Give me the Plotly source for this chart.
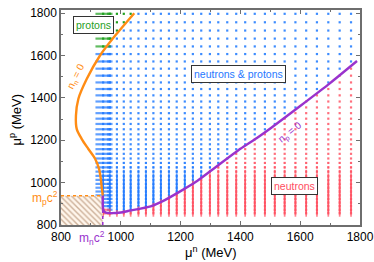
import numpy as np
import plotly.graph_objects as go

# ---------------- data ----------------
# grid columns (neutron chemical potential mu_n, MeV)
mu_n_cols = [941, 963, 987, 1010, 1033, 1059, 1084, 1109, 1134, 1161, 1187, 1214,
             1241, 1269, 1298, 1326, 1356, 1386, 1416, 1448, 1482, 1515, 1548,
             1584, 1620, 1656, 1694, 1732, 1770]
# grid rows (proton chemical potential mu_p, MeV)
mu_p_rows = [855, 872, 889, 906, 923, 940, 958, 976, 994, 1013, 1032, 1052, 1072,
             1093, 1114, 1136, 1158, 1181, 1204, 1228, 1252, 1277, 1302, 1328,
             1355, 1383, 1412, 1442, 1473, 1505, 1538, 1572, 1607, 1643, 1680,
             1718, 1757, 1797]

# n_n = 0 boundary (orange)
nn0_mu_n = [939.6, 936, 933, 927, 914, 891, 869, 852.5, 850, 858, 886, 930, 980.6, 1045]
nn0_mu_p = [938.3, 980, 1019, 1066, 1113, 1160, 1207, 1254, 1317, 1395, 1489, 1599, 1693, 1800]

# n_p = 0 boundary (purple)
np0_mu_n = [939.6, 940.2, 943, 950, 965, 1000, 1024, 1100, 1137, 1200, 1250, 1300,
            1400, 1454, 1500, 1600, 1700, 1790]
np0_mu_p = [938.3, 880, 866, 858, 856, 859, 866, 888, 910, 960, 1003, 1055,
            1160, 1210, 1256, 1362, 1470, 1574]

m_p = 938.3
m_n = 939.6

x_ticks = [800, 1000, 1200, 1400, 1600, 1800]
y_ticks = [800, 1000, 1200, 1400, 1600, 1800]

# ---------------- colours ----------------
BLUE = "#1f78ff"
BLUE_DOT = "#3d8cff"
RED = "#ff4d5e"
RED_DOT = "#ff6f7d"
GREEN = "#1fa01f"
ORANGE = "#ff8c14"
PURPLE = "#9a32cd"
FONT = "Liberation Sans"

# ---------------- classify grid points ----------------
MN, MP = np.meshgrid(np.array(mu_n_cols, float), np.array(mu_p_rows, float))
orange_at = np.interp(MP, nn0_mu_p, nn0_mu_n)
purple_at = np.interp(MN, np0_mu_n, np0_mu_p)
red = MP < purple_at
green = (~red) & (MP > m_p) & (MN < orange_at)
blue = (~red) & (~green)

# marker styling (lengths in px)
vlen = np.interp(MP, [850, 1000, 1110], [4.8, 4.8, 0.0])
hlen = np.where(MN < 950, 11.0, np.where(MN < 970, 4.0, 0.0))

fig = go.Figure()

for mask, col, dcol in [(blue, BLUE, BLUE_DOT), (red, RED, RED_DOT), (green, GREEN, GREEN)]:
    fig.add_trace(go.Scatter(x=MN[mask], y=MP[mask], mode="markers",
                             marker=dict(symbol="square", size=2.2, color=dcol,
                                         line=dict(width=0)),
                             hoverinfo="skip", showlegend=False))
    mv = mask & (vlen > 0.6)
    fig.add_trace(go.Scatter(x=MN[mv], y=MP[mv], mode="markers",
                             marker=dict(symbol="line-ns", size=vlen[mv],
                                         line=dict(width=1.7, color=col)),
                             hoverinfo="skip", showlegend=False))
    mh = mask & (hlen > 0)
    fig.add_trace(go.Scatter(x=MN[mh], y=MP[mh], mode="markers",
                             marker=dict(symbol="line-ew", size=hlen[mh],
                                         line=dict(width=2.2, color=col)),
                             hoverinfo="skip", showlegend=False))

# hatched vacuum box
fig.add_trace(go.Scatter(x=[800, m_n, m_n, 800, 800], y=[800, 800, m_p, m_p, 800],
                         mode="lines", fill="toself", line=dict(width=0),
                         fillcolor="rgba(0,0,0,0)",
                         fillpattern=dict(shape="\\", fgcolor="#9a6a45",
                                          bgcolor="#fff6ec", size=4, solidity=0.35),
                         hoverinfo="skip", showlegend=False))
# threshold dotted lines
fig.add_trace(go.Scatter(x=[800, m_n], y=[m_p, m_p], mode="lines",
                         line=dict(color=ORANGE, width=1.6, dash="dot"),
                         hoverinfo="skip", showlegend=False))
fig.add_trace(go.Scatter(x=[m_n, m_n], y=[800, m_p], mode="lines",
                         line=dict(color=PURPLE, width=1.6, dash="dot"),
                         hoverinfo="skip", showlegend=False))
# boundaries
fig.add_trace(go.Scatter(x=nn0_mu_n, y=nn0_mu_p, mode="lines",
                         line=dict(color=ORANGE, width=2.4, shape="spline", smoothing=0.8),
                         hoverinfo="skip", showlegend=False))
fig.add_trace(go.Scatter(x=np0_mu_n, y=np0_mu_p, mode="lines",
                         line=dict(color=PURPLE, width=2.4, shape="spline", smoothing=0.6),
                         hoverinfo="skip", showlegend=False))

# labels
box = dict(bordercolor="#333333", borderwidth=1, bgcolor="white", borderpad=2)
fig.add_annotation(x=908, y=1746, text="protons", showarrow=False,
                   font=dict(color=GREEN, size=10.5, family=FONT), **box)
fig.add_annotation(x=1394, y=1513, text="neutrons &amp; protons", showarrow=False,
                   font=dict(color=BLUE, size=10.5, family=FONT), **box)
fig.add_annotation(x=1580, y=983, text="neutrons", showarrow=False,
                   font=dict(color=RED, size=10.5, family=FONT), **box)
fig.add_annotation(x=850, y=1505, text="n<sub>n</sub> = 0", showarrow=False, textangle=-64,
                   font=dict(color=ORANGE, size=10, family=FONT))
fig.add_annotation(x=1568, y=1236, text="n<sub>p</sub> = 0", showarrow=False, textangle=-39,
                   font=dict(color=PURPLE, size=10, family=FONT))
fig.add_annotation(x=800, y=m_p, text="m<sub>p</sub>c<sup>2</sup>", showarrow=False,
                   xanchor="right", yanchor="middle", xshift=-1, yshift=-2,
                   font=dict(color=ORANGE, size=12, family=FONT))
fig.add_annotation(x=m_n, y=800, text="m<sub>n</sub>c<sup>2</sup>", showarrow=False,
                   xanchor="center", yanchor="top", xshift=-11, yshift=-2,
                   font=dict(color=PURPLE, size=12, family=FONT))

# axis titles (placed as paper annotations for exact positioning)
fig.add_annotation(xref="paper", yref="paper", x=0.5, y=0, yanchor="middle",
                   yshift=-27, showarrow=False, text="\u03bc<sup>n</sup> (MeV)",
                   font=dict(size=13, family=FONT, color="black"))
fig.add_annotation(xref="paper", yref="paper", x=0, y=0.5, xanchor="center",
                   xshift=-46, yshift=-2, textangle=-90, showarrow=False,
                   text="\u03bc<sup>p</sup> (MeV)",
                   font=dict(size=13, family=FONT, color="black"))

axis_common = dict(showline=True, mirror="ticks", linecolor="#6e6e6e", linewidth=1.5,
                   ticks="inside", ticklen=4, tickcolor="#6e6e6e", tickwidth=1,
                   showgrid=False, zeroline=False, automargin=False,
                   tickfont=dict(size=12, family=FONT, color="black"),
                   minor=dict(ticks="inside", ticklen=2.5, dtick=100, tickcolor="#6e6e6e"))

fig.update_xaxes(range=[800, 1800], tickvals=x_ticks, **axis_common)
fig.update_yaxes(range=[800, 1815], tickvals=y_ticks, **axis_common)

fig.update_layout(width=374, height=262, margin=dict(l=61, r=14, t=10, b=37),
                  paper_bgcolor="white", plot_bgcolor="white", showlegend=False,
                  font=dict(family=FONT))

fig.write_html("out.html", config={"displayModeBar": False},
               post_script="document.body.style.margin='0px';")
